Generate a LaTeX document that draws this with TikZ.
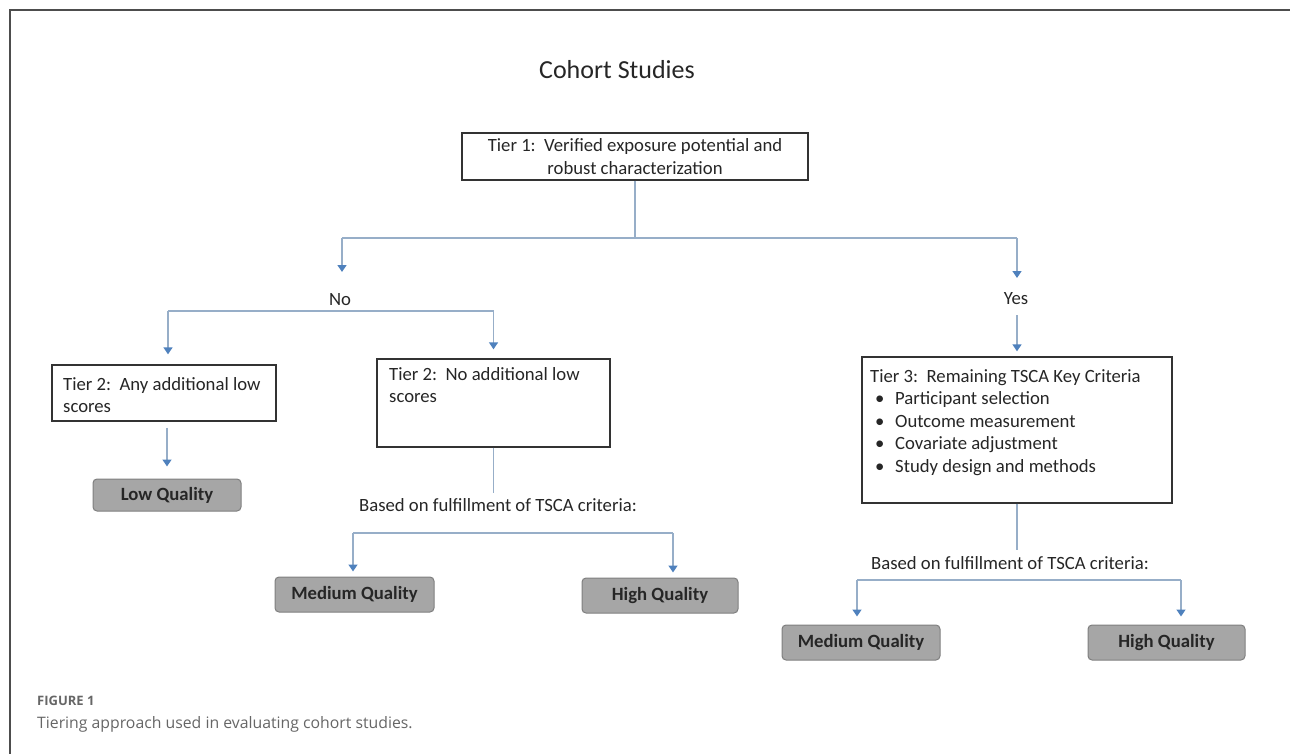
\documentclass[tikz,border=0pt]{standalone}
\usepackage{fontspec}
\setmainfont{Carlito}
\newfontfamily\capfont{Open Sans}
\usetikzlibrary{arrows.meta}
\definecolor{lnc}{HTML}{97AEC8}
\definecolor{arc}{HTML}{4F81BD}
\definecolor{qfill}{HTML}{A6A6A6}
\definecolor{qdraw}{HTML}{7F7F7F}
\definecolor{frm}{HTML}{4D4D4D}
\definecolor{capc}{HTML}{666666}
\newcommand\mybul{\makebox[25pt][l]{\hspace{5pt}\textbullet}}
\begin{document}
\begin{tikzpicture}[x=1pt,y=-1pt,
  lbl/.style={font=\fontsize{18.7}{22.5}\selectfont, inner sep=0pt, text=black!85},
  tierbox/.style={draw=black!80, line width=1.3pt, fill=white, inner sep=0pt},
  qbox/.style={draw=qdraw, fill=qfill, rounded corners=4pt, line width=1pt,
    minimum height=35pt, font=\bfseries\fontsize{18.7}{22.5}\selectfont,
    text=black!85, inner sep=0pt},
  ln/.style={draw=lnc, line width=1.4pt},
  arr/.style={ln, -{Triangle[width=9pt,length=7pt,color=arc]}},
]
\useasboundingbox (0,0) rectangle (1290,754);
\draw[frm, line width=2pt] (10,754) -- (10,10.5) -- (1290,10.5);

\node[font=\fontsize{26}{30}\selectfont, text=black!85, inner sep=0pt] (title) at (617,70) {Cohort Studies};

% tier boxes
\node[tierbox, lbl, minimum width=346pt, minimum height=47pt, align=center] (t1) at (635,156.5)
  {Tier 1:\ \ Verified exposure potential and\\robust characterization};
\node[tierbox, minimum width=224pt, minimum height=56pt] (t2a) at (164,393) {};
\node[lbl, anchor=north west, align=left] (t2at) at (63,377) {Tier 2:\ \ Any additional low\\scores};
\node[tierbox, minimum width=233pt, minimum height=88pt] (t2b) at (493.5,403) {};
\node[lbl, anchor=north west, align=left] (t2bt) at (389,367) {Tier 2:\ \ No additional low\\scores};
\node[tierbox, minimum width=310pt, minimum height=146pt] (t3) at (1017,430) {};
\node[lbl, anchor=north west, align=left] (t3t) at (870,369)
  {Tier 3:\ \ Remaining TSCA Key Criteria\\
   \mybul Participant selection\\
   \mybul Outcome measurement\\
   \mybul Covariate adjustment\\
   \mybul Study design and methods};

% quality boxes
\node[qbox, minimum width=148pt, minimum height=32pt] (low) at (167,495) {Low Quality};
\node[qbox, minimum width=159pt] (mq1) at (354.5,594.5) {Medium Quality};
\node[qbox, minimum width=156pt] (hq1) at (660,595.5) {High Quality};
\node[qbox, minimum width=158pt] (mq2) at (861,642.5) {Medium Quality};
\node[qbox, minimum width=157pt] (hq2) at (1166.5,642.5) {High Quality};

% labels
\node[lbl] (no) at (340,300) {No};
\node[lbl] (yes) at (1016,299) {Yes};
\node[lbl] (b2lbl) at (498,505) {Based on fulfillment of TSCA criteria:};
\node[lbl] (b3lbl) at (1010,563) {Based on fulfillment of TSCA criteria:};

% coordinates
\coordinate (s1) at (635,238);
\coordinate (noL) at (342,238);
\coordinate (yesR) at (1017,238);
\coordinate (noT) at (342,272);
\coordinate (yesT) at (1017,278);
\coordinate (yesB) at (1017,315);
\coordinate (nbL) at (168,311);
\coordinate (nbR) at (493.5,311);
\coordinate (b2c) at (493.5,493);
\coordinate (b2L) at (353,533);
\coordinate (b2R) at (673,533);
\coordinate (b3c) at (1017,550);
\coordinate (b3L) at (857,580);
\coordinate (b3R) at (1181,580);

% connectors
\draw[ln] (t1.south) -- (s1);
\draw[ln] (noL) -- (yesR);
\draw[arr] (noL) -- (noT);
\draw[arr] (yesR) -- (yesT);
\draw[arr, shorten >=5pt] (yesB) -- (t3.north);

\draw[ln] (nbL) -- (nbR);
\draw[arr, shorten >=10pt] (nbL) -- (nbL |- t2a.north);
\draw[arr, shorten >=9pt] (nbR) -- (t2b.north);
\draw[arr, shorten <=6pt, shorten >=12pt] (low.north |- t2a.south) -- (low.north);

\draw[ln] (t2b.south) -- (b2c);
\draw[ln] (b2L) -- (b2R);
\draw[arr, shorten >=5pt] (b2L) -- (b2L |- mq1.north);
\draw[arr, shorten >=5pt] (b2R) -- (b2R |- hq1.north);

\draw[ln] (t3.south) -- (b3c);
\draw[ln] (b3L) -- (b3R);
\draw[arr, shorten >=8pt] (b3L) -- (b3L |- mq2.north);
\draw[arr, shorten >=8pt] (b3R) -- (b3R |- hq2.north);

% caption
\node[anchor=base west, inner sep=0pt, font=\capfont\bfseries\fontsize{13}{16}\selectfont, text=capc] (fig) at (37,705) {FIGURE 1};
\node[anchor=base west, inner sep=0pt, font=\capfont\fontsize{15.8}{19}\selectfont, text=capc] (cap) at (37,728) {Tiering approach used in evaluating cohort studies.};
\end{tikzpicture}
\end{document}
